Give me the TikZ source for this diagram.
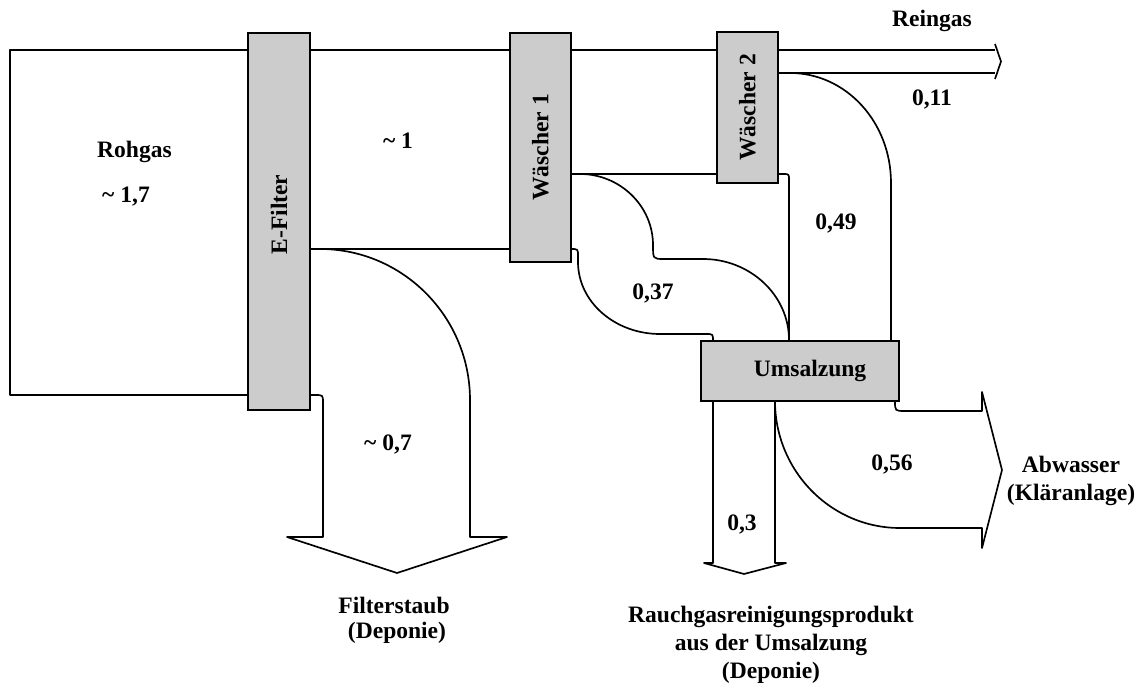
\documentclass[tikz,border=0pt]{standalone}
\usepackage{fontspec}
\setmainfont{Liberation Serif}
\definecolor{boxgray}{RGB}{204,204,204}
\begin{document}
\begin{tikzpicture}[x=0.02cm,y=-0.02cm,
  flow/.style={draw=black, line width=0.95pt, line join=round},
  procbox/.style={draw=black, line width=1.2pt, fill=boxgray, inner sep=0pt,
    font=\fontsize{13.4}{16}\selectfont\bfseries},
  lbl/.style={font=\fontsize{13.4}{16}\selectfont\bfseries, inner sep=0pt, anchor=base}]
\useasboundingbox (0,0) rectangle (1140,689);

% raw gas entering the electrostatic filter
\draw[flow] (248,50) -- (10,50) -- (10,395) -- (248,395);
% gas from the filter to scrubber 1
\draw[flow] (310,50) -- (510,50);
\draw[flow] (310,249) -- (510,249);
% gas from scrubber 1 to scrubber 2
\draw[flow] (571,50) -- (717,50);
\draw[flow] (571,174) -- (717,174);
% clean gas leaving scrubber 2
\draw[flow] (778,50) -- (995,50);
\draw[flow] (778,73) -- (995,73);
\draw[flow] (995,44) -- (1001,61.5) -- (995,79);
% filter dust to landfill
\draw[flow] (310,249) -- (320,249) .. controls (403,249) and (470,317) .. (470,400)
  -- (470,537) -- (507,537) -- (397,573) -- (287,537) -- (323,537) -- (323,403)
  .. controls (323,395) .. (315,395) -- (310,395);
% liquid from scrubber 1 to the salt conversion
\draw[flow] (571,174) -- (580,174) .. controls (620,174) and (653,206) .. (653,245)
  .. controls (653,259) .. (664,259) -- (703,259)
  .. controls (750,259) and (789,295) .. (789,340);
\draw[flow] (571,249) .. controls (578,249) .. (578,256) -- (578,262)
  .. controls (578,302) and (615,334) .. (660,334) -- (706,334)
  .. controls (713,334) .. (713,341);
% liquid from scrubber 2 to the salt conversion
\draw[flow] (778,174) -- (783,174) .. controls (789,174) .. (789,180) -- (789,341);
\draw[flow] (778,73) -- (790,73) .. controls (846,73) and (891,122) .. (891,183) -- (891,341);
% residue to landfill
\draw[flow] (713,401) -- (713,563) -- (704,563) -- (744,574) -- (786,563) -- (775,563) -- (775,401);
% waste water to the treatment plant
\draw[flow] (775,401) .. controls (775,471) and (831,528) .. (900,528) -- (982,528)
  -- (982,548) -- (1002,470) -- (982,392) -- (982,411) -- (905,411)
  .. controls (895,411) .. (895,401);

% process units
\node[procbox, rotate=90, minimum width=7.54cm, minimum height=1.24cm] (efilter) at (279,221.5) {\hspace*{0.28cm}E-Filter};
\node[procbox, rotate=90, minimum width=4.58cm, minimum height=1.22cm] (wasch1) at (540.5,147.5) {Wäscher 1};
\node[procbox, rotate=90, minimum width=3.02cm, minimum height=1.22cm] (wasch2) at (747.5,107.5) {Wäscher 2};
\node[procbox, minimum width=3.96cm, minimum height=1.2cm] (umsalz) at (800,371) {\hspace*{0.4cm}Umsalzung};

% stream labels, placed on their baselines
\node[lbl] (rohgas) at (134.5,158) {Rohgas};
\node[lbl] (v17) at (126,203) {\textasciitilde\ 1,7};
\node[lbl] (v1) at (398,149) {\textasciitilde\ 1};
\node[lbl] (v07) at (388,450) {\textasciitilde\ 0,7};
\node[lbl] (reingas) at (932,27) {Reingas};
\node[lbl] (v011) at (932,106) {0,11};
\node[lbl] (v049) at (836,230) {0,49};
\node[lbl] (v037) at (653,300) {0,37};
\node[lbl] (v056) at (892,470) {0,56};
\node[lbl] (v03) at (742,530) {0,3};
\node[lbl] (abw1) at (1071,472) {Abwasser};
\node[lbl] (abw2) at (1071,500) {(Kläranlage)};
\node[lbl] (fs1) at (394,613) {Filterstaub};
\node[lbl] (fs2) at (397,638) {(Deponie)};
\node[lbl] (rg1) at (771,622) {Rauchgasreinigungsprodukt};
\node[lbl] (rg2) at (771,650) {aus der Umsalzung};
\node[lbl] (rg3) at (771,678) {(Deponie)};
\end{tikzpicture}
\end{document}
